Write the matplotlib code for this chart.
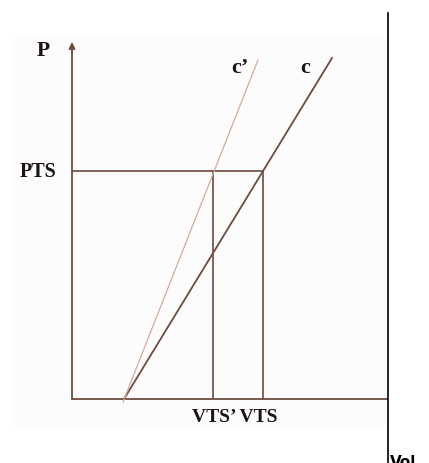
import matplotlib.pyplot as plt
from matplotlib.patches import Rectangle
from matplotlib.lines import Line2D

# values in chart units (origin = where the axes cross)
pts = 228
vts = 191
vts_prime = 141
c_x = [52, 260]
c_y = [0, 341]
c_prime_x = [51, 186]
c_prime_y = [-3, 339]

W, H = 429, 463
fig = plt.figure(figsize=(W / 100, H / 100), dpi=100)

# faint scan background
bg = fig.add_axes([0, 0, 1, 1])
bg.set_xlim(0, W)
bg.set_ylim(H, 0)
bg.axis('off')
bg.add_patch(Rectangle((13, 38), 375, 389, color='#fcfcfc', lw=0))

ax = fig.add_axes([72 / W, (H - 399) / H, 315 / W, 357 / H])
ax.set_xlim(0, 315)
ax.set_ylim(0, 357)
ax.axis('off')
ax.patch.set_alpha(0)

line_col = '#6e4b3e'
serif = ['Liberation Serif', 'DejaVu Serif']

# axes
ax.plot([0, 315], [0, 0], color=line_col, lw=1.3, clip_on=False)
ax.annotate('', xy=(0, 357), xytext=(0, 0),
            arrowprops=dict(arrowstyle='-|>', color=line_col, lw=1.3,
                            mutation_scale=9, shrinkA=0, shrinkB=0))

# guide lines
ax.plot([0, vts], [pts, pts], color=line_col, lw=1.2)
ax.plot([vts, vts], [0, pts], color=line_col, lw=1.2)
ax.plot([vts_prime, vts_prime], [0, pts], color=line_col, lw=1.2)

# curves
ax.plot(c_x, c_y, color=line_col, lw=1.3, clip_on=False)
ax.plot(c_prime_x, c_prime_y, color='#d2ab9c', lw=0.9, clip_on=False)

# labels
txt = '#1c1414'
ax.text(-22, 348, 'P', fontsize=15.5, fontweight='bold', family=serif, color=txt, ha='right', va='center')
ax.text(-16, pts - 1, 'PTS', fontsize=14.5, fontweight='bold', family=serif, color=txt, ha='right', va='center')
ax.text(168, 331, 'c\u2019', fontsize=16, fontweight='bold', family=serif, color=txt, ha='center', va='center')
ax.text(233, 331, 'c', fontsize=16, fontweight='bold', family=serif, color=txt, ha='center', va='center')
ax.text(163, -19, 'VTS\u2019 VTS', fontsize=14, fontweight='bold', family=serif, color=txt, ha='center', va='center')

# right border line and label (cut by the bottom edge, as in the source)
fig.add_artist(Line2D([388 / W, 388 / W], [0, 1 - 13 / H], color='black', lw=1.2))
fig.text(390 / W, 1 - 455 / H, 'Vol', fontsize=11, fontweight='bold', color='black', ha='left', va='top')

fig.savefig('out.png', dpi=100)
